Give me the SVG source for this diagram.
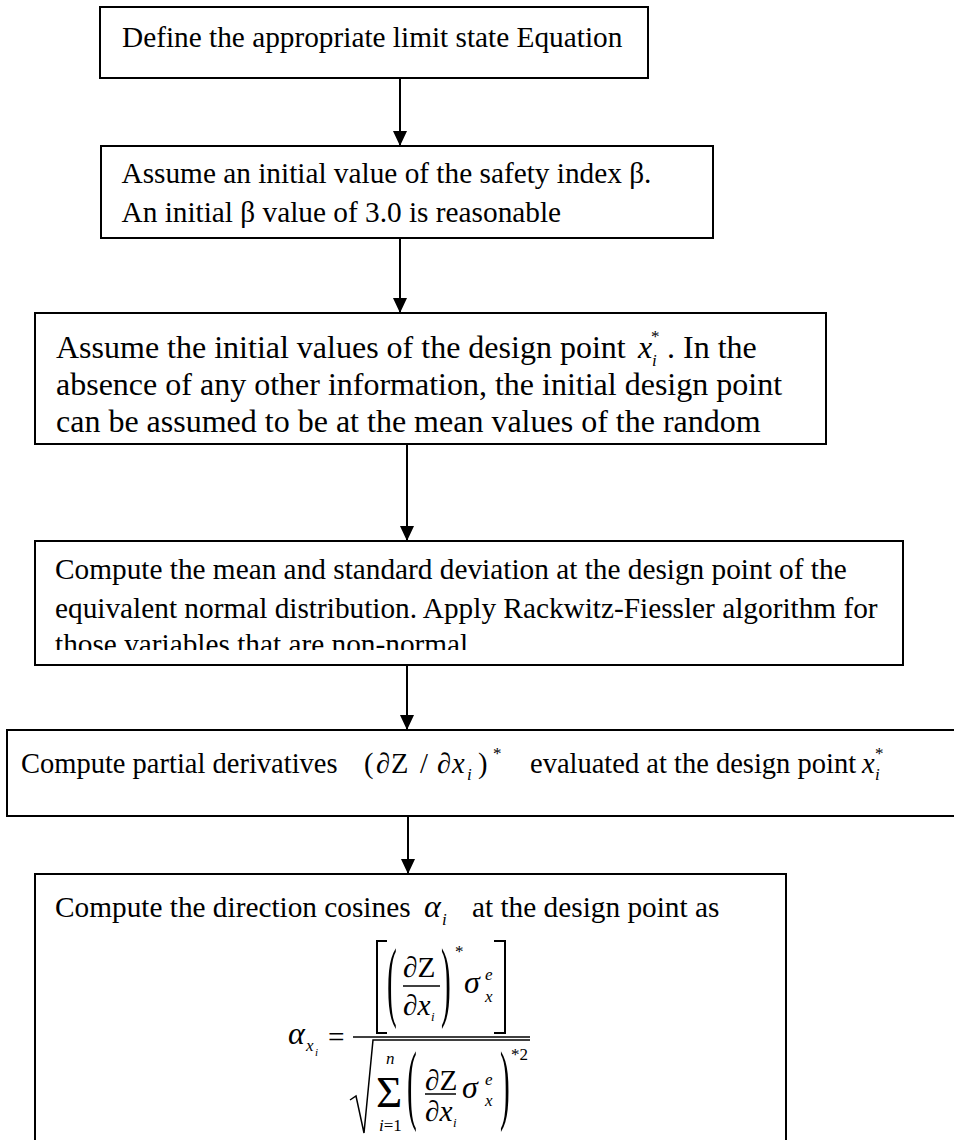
<svg xmlns="http://www.w3.org/2000/svg" width="954" height="1140" viewBox="0 0 954 1140">
  <style>
    .box { fill: #fff; stroke: #000; stroke-width: 2; }
    .t { font-family: "Liberation Serif", "Times New Roman", serif; font-size: 29.3px; fill: #000; }
    .big { font-size: 32px; }
    .s5 { font-size: 28.5px; }
    .m { font-style: italic; }
    .sub { font-family: "Liberation Serif", "Times New Roman", serif; font-size: 17px; fill: #000; }
    .ln { stroke: #000; stroke-width: 2; fill: none; }
    .bar { stroke: #000; stroke-width: 1.5; fill: none; }
    .conn { stroke: #000; stroke-width: 2; fill: none; marker-end: url(#ah); }
  </style>
  <defs>
    <marker id="ah" markerUnits="userSpaceOnUse" markerWidth="16" markerHeight="14" refX="15" refY="7" orient="auto">
      <path d="M0,0 L15,7 L0,14 z" fill="#000"/>
    </marker>
    <clipPath id="clip4">
      <rect x="35" y="541" width="868" height="109"/>
    </clipPath>
  </defs>

  <rect width="954" height="1140" fill="#fff"/>

  <!-- connectors -->
  <g id="connectors">
    <line class="conn" x1="400" y1="78" x2="400" y2="146"/>
    <line class="conn" x1="400" y1="238" x2="400" y2="313"/>
    <line class="conn" x1="407" y1="444" x2="407" y2="541"/>
    <line class="conn" x1="407" y1="665" x2="407" y2="730"/>
    <line class="conn" x1="408" y1="816" x2="408" y2="874"/>
  </g>

  <!-- step 1 -->
  <g id="define-limit-state">
    <rect class="box" x="100" y="7" width="548" height="71"/>
    <text class="t" x="122" y="47">Define the appropriate limit state Equation</text>
  </g>

  <!-- step 2 -->
  <g id="initial-beta">
    <rect class="box" x="101" y="146" width="612" height="92"/>
    <text class="t" x="121.5" y="183">Assume an initial value of the safety index β.</text>
    <text class="t" x="121.5" y="222">An initial β value of 3.0 is reasonable</text>
  </g>

  <!-- step 3 -->
  <g id="initial-design-point">
    <rect class="box" x="35" y="313" width="791" height="131"/>
    <text class="t big" x="56" y="358">Assume the initial values of the design point</text>
    <text class="t big m" x="638" y="358">x</text>
    <text class="sub m" x="652" y="366">i</text>
    <text class="sub" x="651" y="342">*</text>
    <text class="t big" x="667" y="358">. In the</text>
    <text class="t big" x="56" y="395">absence of any other information, the initial design point</text>
    <text class="t big" x="56" y="432">can be assumed to be at the mean values of the random</text>
  </g>

  <!-- step 4 -->
  <g id="equivalent-normal">
    <rect class="box" x="35" y="541" width="868" height="124"/>
    <text class="t" x="55" y="579">Compute the mean and standard deviation at the design point of the</text>
    <text class="t" x="55" y="618">equivalent normal distribution. Apply Rackwitz-Fiessler algorithm for</text>
    <text class="t" x="55" y="654" clip-path="url(#clip4)">those variables that are non-normal.</text>
  </g>

  <!-- step 5 -->
  <g id="partial-derivatives">
    <rect class="box" x="7" y="730" width="960" height="86"/>
    <text class="t s5" x="21" y="773">Compute partial derivatives</text>
    <text class="t s5" x="364" y="773">(</text>
    <text class="t s5" x="376" y="773">∂</text>
    <text class="t s5" x="391" y="773">Z</text>
    <text class="t s5" x="420" y="773">/</text>
    <text class="t s5" x="437" y="773">∂</text>
    <text class="t s5 m" x="452" y="773">x</text>
    <text class="sub m" x="467" y="780">i</text>
    <text class="t s5" x="478" y="773">)</text>
    <text class="sub" x="493" y="759">*</text>
    <text class="t s5" x="530" y="773">evaluated at the design point</text>
    <text class="t s5 m" x="862" y="773">x</text>
    <text class="sub m" x="875" y="780">i</text>
    <text class="sub" x="875" y="759">*</text>
  </g>

  <!-- step 6 -->
  <g id="direction-cosines">
    <rect class="box" x="35" y="874" width="751" height="300"/>
    <text class="t" x="55" y="917">Compute the direction cosines</text>
    <text class="t m" x="424" y="917" style="font-size:32px">α</text>
    <text class="sub m" x="442" y="925">i</text>
    <text class="t" x="472" y="917">at the design point as</text>

    <!-- alpha_xi = -->
    <text class="t m" x="288" y="1044" style="font-size:32px">α</text>
    <text class="sub m" x="306" y="1051">x</text>
    <text class="sub m" x="315" y="1056" style="font-size:11px">i</text>
    <text class="t" x="328" y="1047">=</text>
    <line class="bar" x1="353" y1="1037" x2="530" y2="1037"/>

    <!-- numerator -->
    <path class="ln" d="M387,941 H377 V1033 H387"/>
    <path class="ln" d="M494,941 H505 V1033 H494"/>
    <text class="t" transform="translate(387,1010) scale(1,3)">(</text>
    <text class="t" transform="translate(441,1010) scale(1,3)">)</text>
    <text class="t" x="403" y="977">∂Z</text>
    <line class="bar" x1="403" y1="986" x2="440" y2="986"/>
    <text class="t" x="403" y="1015">∂<tspan class="m">x</tspan></text>
    <text class="sub m" x="431" y="1021" style="font-size:13px">i</text>
    <text class="sub" x="455" y="957">*</text>
    <text class="t m" x="464" y="993" style="font-size:32px">σ</text>
    <text class="sub m" x="485" y="980">e</text>
    <text class="sub m" x="485" y="1002">x</text>

    <!-- denominator -->
    <path class="bar" d="M350,1100 L356,1096 L364,1133 L373,1040 H530"/>
    <text class="sub m" x="386" y="1064">n</text>
    <text class="t" x="376" y="1107" style="font-size:45px">Σ</text>
    <text class="sub" x="379" y="1131"><tspan class="m">i</tspan>=1</text>
    <text class="t" transform="translate(407,1113) scale(1,3)">(</text>
    <text class="t" transform="translate(500,1113) scale(1,3)">)</text>
    <text class="t" x="425" y="1090">∂Z</text>
    <line class="bar" x1="425" y1="1094" x2="456" y2="1094"/>
    <text class="t" x="425" y="1121">∂<tspan class="m">x</tspan></text>
    <text class="sub m" x="453" y="1127" style="font-size:13px">i</text>
    <text class="t m" x="462" y="1098" style="font-size:32px">σ</text>
    <text class="sub m" x="485" y="1085">e</text>
    <text class="sub m" x="485" y="1106">x</text>
    <text class="sub" x="511" y="1060">*2</text>
  </g>
</svg>
